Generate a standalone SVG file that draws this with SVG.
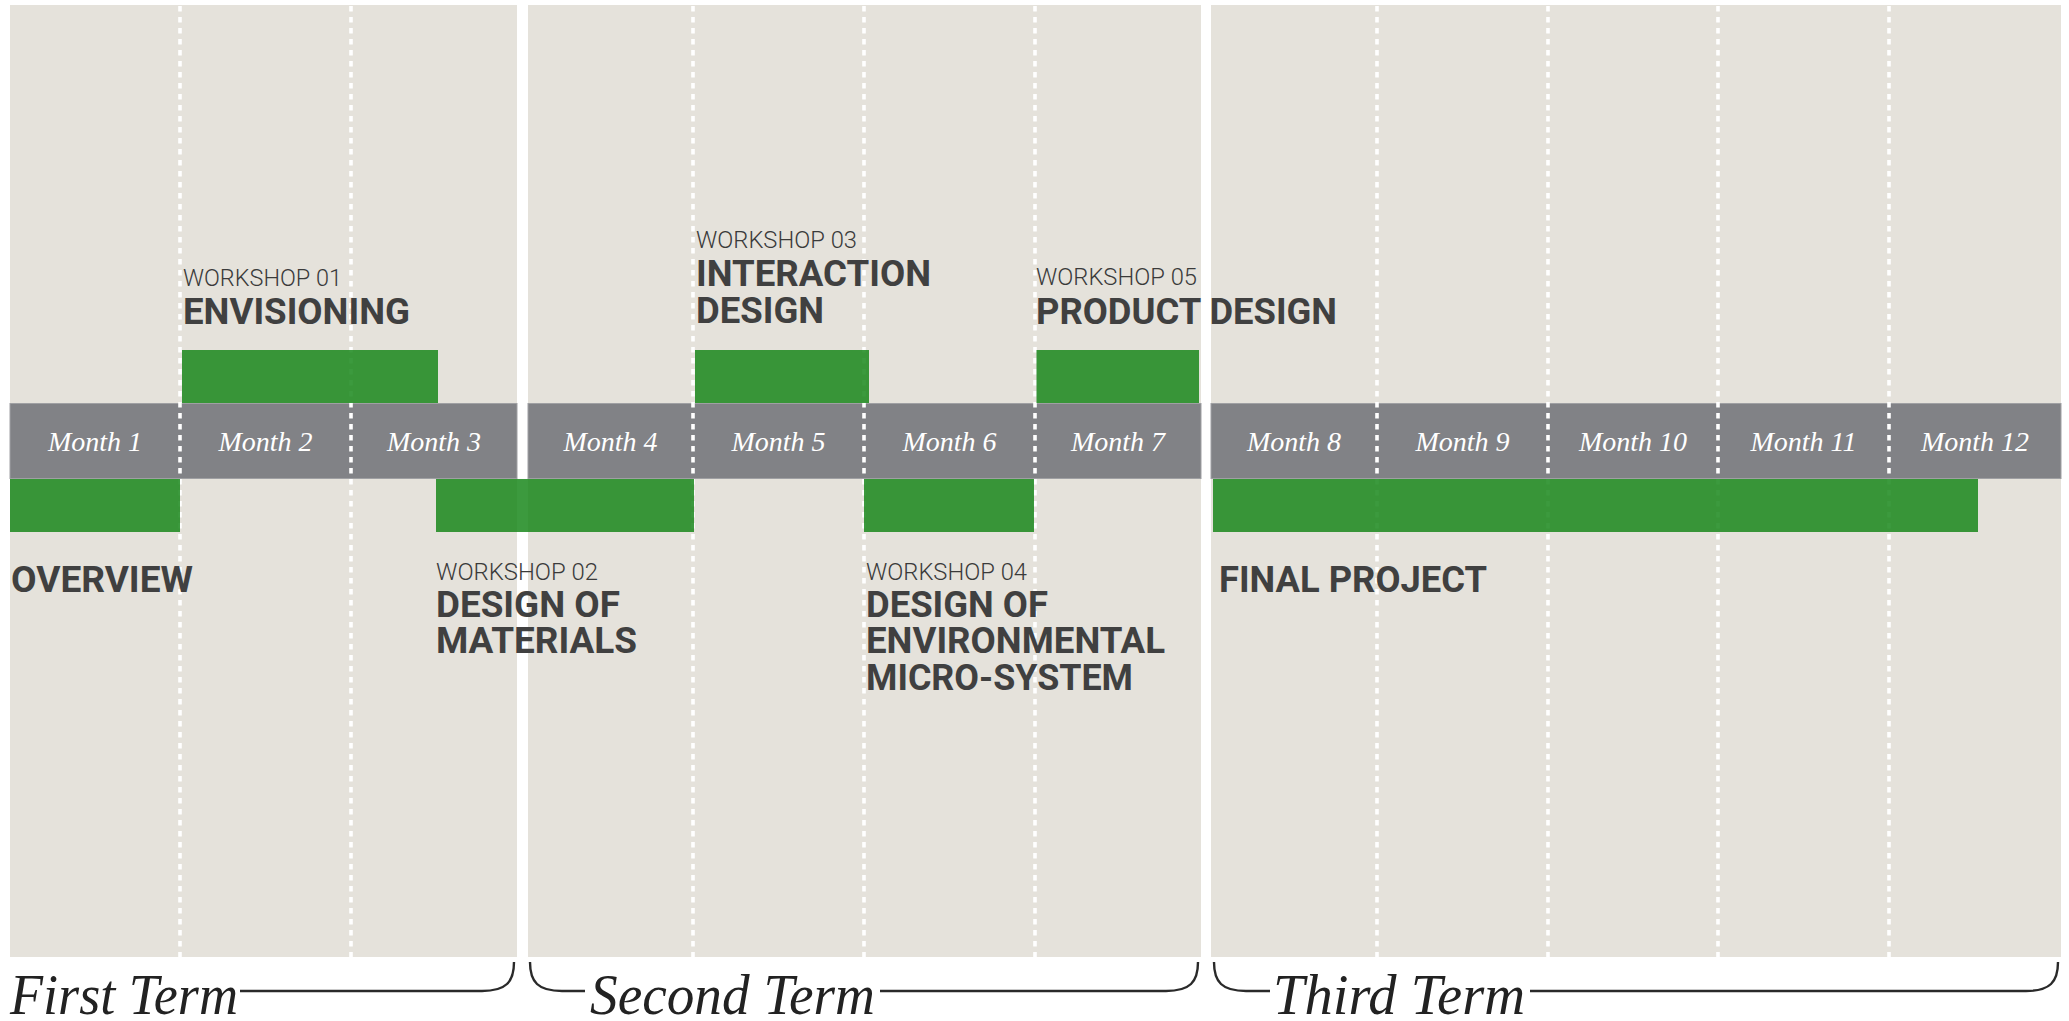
<svg xmlns="http://www.w3.org/2000/svg" width="2069" height="1021" viewBox="0 0 2069 1021">
<style>
.panel{fill:#e5e2db}
.band{fill:#818286;stroke:#9fa0a3;stroke-width:1}
.dash{stroke:#ffffff;stroke-width:3.6;stroke-dasharray:5.5 5.5;fill:none}
.bar{fill:#118413;fill-opacity:0.82}
.month{font-family:"Liberation Serif",serif;font-style:italic;font-size:28px;fill:#ffffff;text-anchor:middle}
.ws{font-family:Roboto,"Liberation Sans",sans-serif;font-weight:300;font-size:23px;fill:#3a3a3a}
.title{font-family:Roboto,"Liberation Sans",sans-serif;font-weight:700;font-size:37px;fill:#404040}
.term{font-family:"Liberation Serif",serif;font-style:italic;font-size:56px;fill:#222222}
.brace{fill:none;stroke:#2a2a2a;stroke-width:2.4}
</style>
<rect x="0" y="0" width="2069" height="1021" fill="#ffffff"/>
<g id="panels">
<rect class="panel" x="10" y="5" width="507" height="952"/>
<rect class="panel" x="528" y="5" width="673" height="952"/>
<rect class="panel" x="1211" y="5" width="850" height="952"/>
</g>
<g id="month-band">
<rect class="band" x="10" y="403.5" width="507" height="75"/>
<rect class="band" x="528" y="403.5" width="673" height="75"/>
<rect class="band" x="1211" y="403.5" width="850" height="75"/>
</g>
<g id="grid">
<line class="dash" x1="180" y1="6" x2="180" y2="957"/>
<line class="dash" x1="351" y1="6" x2="351" y2="957"/>
<line class="dash" x1="693" y1="6" x2="693" y2="957"/>
<line class="dash" x1="864" y1="6" x2="864" y2="957"/>
<line class="dash" x1="1035" y1="6" x2="1035" y2="957"/>
<line class="dash" x1="1377" y1="6" x2="1377" y2="957"/>
<line class="dash" x1="1548" y1="6" x2="1548" y2="957"/>
<line class="dash" x1="1718" y1="6" x2="1718" y2="957"/>
<line class="dash" x1="1889" y1="6" x2="1889" y2="957"/>
</g>
<g id="months">
<text class="month" x="95" y="451">Month 1</text>
<text class="month" x="265.5" y="451">Month 2</text>
<text class="month" x="434" y="451">Month 3</text>
<text class="month" x="610.5" y="451">Month 4</text>
<text class="month" x="778.5" y="451">Month 5</text>
<text class="month" x="949.5" y="451">Month 6</text>
<text class="month" x="1118" y="451">Month 7</text>
<text class="month" x="1294" y="451">Month 8</text>
<text class="month" x="1462.5" y="451">Month 9</text>
<text class="month" x="1633" y="451">Month 10</text>
<text class="month" x="1803.5" y="451">Month 11</text>
<text class="month" x="1975" y="451">Month 12</text>
</g>
<g id="overview">
<rect class="bar" x="10" y="479" width="170" height="53"/>
<text class="title" x="11" y="592" textLength="182" lengthAdjust="spacingAndGlyphs">OVERVIEW</text>
</g>
<g id="workshop01">
<rect class="bar" x="182" y="350" width="256" height="53"/>
<text class="ws" x="183" y="286" textLength="159" lengthAdjust="spacingAndGlyphs">WORKSHOP 01</text>
<text class="title" x="183" y="324" textLength="227" lengthAdjust="spacingAndGlyphs">ENVISIONING</text>
</g>
<g id="workshop02">
<rect class="bar" x="436" y="479" width="258" height="53"/>
<text class="ws" x="436" y="580" textLength="162" lengthAdjust="spacingAndGlyphs">WORKSHOP 02</text>
<text class="title" x="436" y="617" textLength="184" lengthAdjust="spacingAndGlyphs">DESIGN OF</text>
<text class="title" x="436" y="653" textLength="201" lengthAdjust="spacingAndGlyphs">MATERIALS</text>
</g>
<g id="workshop03">
<rect class="bar" x="695" y="350" width="174" height="53"/>
<text class="ws" x="696" y="248" textLength="161" lengthAdjust="spacingAndGlyphs">WORKSHOP 03</text>
<text class="title" x="696" y="286" textLength="235" lengthAdjust="spacingAndGlyphs">INTERACTION</text>
<text class="title" x="696" y="323" textLength="128" lengthAdjust="spacingAndGlyphs">DESIGN</text>
</g>
<g id="workshop04">
<rect class="bar" x="864" y="479" width="170" height="53"/>
<text class="ws" x="866" y="580" textLength="161" lengthAdjust="spacingAndGlyphs">WORKSHOP 04</text>
<text class="title" x="866" y="617" textLength="182" lengthAdjust="spacingAndGlyphs">DESIGN OF</text>
<text class="title" x="866" y="653" textLength="299" lengthAdjust="spacingAndGlyphs">ENVIRONMENTAL</text>
<text class="title" x="866" y="690" textLength="267" lengthAdjust="spacingAndGlyphs">MICRO-SYSTEM</text>
</g>
<g id="workshop05">
<rect class="bar" x="1036.5" y="350" width="162.5" height="53"/>
<text class="ws" x="1036" y="285" textLength="161" lengthAdjust="spacingAndGlyphs">WORKSHOP 05</text>
<text class="title" x="1036" y="324" textLength="301" lengthAdjust="spacingAndGlyphs">PRODUCT DESIGN</text>
</g>
<g id="final-project">
<rect class="bar" x="1213" y="479" width="765" height="53"/>
<text class="title" x="1219" y="592" textLength="268" lengthAdjust="spacingAndGlyphs">FINAL PROJECT</text>
</g>
<g id="connectors">
<path class="brace" d="M240 991 H482 C506 991 514 982 514 962"/>
<path class="brace" d="M530 962 C530 982 538 991 562 991 H585"/>
<path class="brace" d="M880 991 H1166 C1190 991 1198 982 1198 962"/>
<path class="brace" d="M1214 962 C1214 982 1222 991 1246 991 H1270"/>
<path class="brace" d="M1530 991 H2026 C2050 991 2058 982 2058 962"/>
</g>
<g id="terms">
<text class="term" x="10" y="1014" textLength="228" lengthAdjust="spacingAndGlyphs">First Term</text>
<text class="term" x="590" y="1014" textLength="285" lengthAdjust="spacingAndGlyphs">Second Term</text>
<text class="term" x="1273" y="1014" textLength="252" lengthAdjust="spacingAndGlyphs">Third Term</text>
</g>
</svg>
